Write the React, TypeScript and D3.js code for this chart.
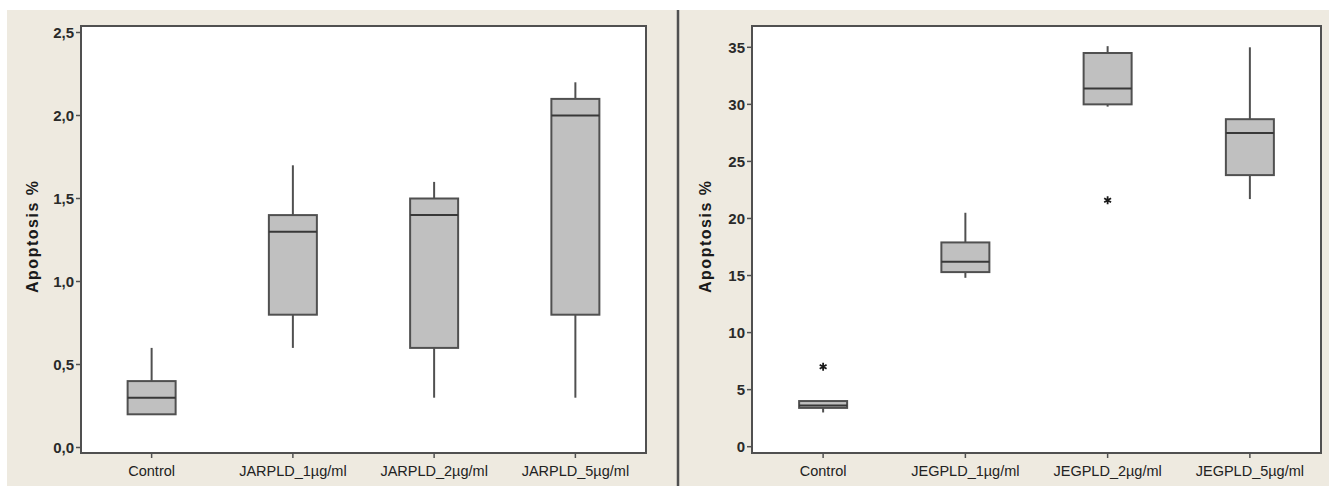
import React, { useEffect, useRef } from "react";
import * as d3 from "d3";

// left panel (JAR cells)
const jarCategories = ["Control", "JARPLD_1µg/ml", "JARPLD_2µg/ml", "JARPLD_5µg/ml"];
const jarLow = [0.2, 0.6, 0.3, 0.3];
const jarQ1 = [0.2, 0.8, 0.6, 0.8];
const jarMedian = [0.3, 1.3, 1.4, 2.0];
const jarQ3 = [0.4, 1.4, 1.5, 2.1];
const jarHigh = [0.6, 1.7, 1.6, 2.2];
const jarOutliers: { cat: number; v: number }[] = [];
const jarTickValues = [0, 0.5, 1.0, 1.5, 2.0, 2.5];
const jarTickLabels = ["0,0", "0,5", "1,0", "1,5", "2,0", "2,5"];

// right panel (JEG cells)
const jegCategories = ["Control", "JEGPLD_1µg/ml", "JEGPLD_2µg/ml", "JEGPLD_5µg/ml"];
const jegLow = [3.0, 14.8, 29.8, 21.7];
const jegQ1 = [3.4, 15.3, 30.0, 23.8];
const jegMedian = [3.6, 16.2, 31.4, 27.5];
const jegQ3 = [4.0, 17.9, 34.5, 28.7];
const jegHigh = [4.0, 20.5, 35.1, 35.0];
const jegOutliers = [
  { cat: 0, v: 7.0 },
  { cat: 2, v: 21.6 },
];
const jegTickValues = [0, 5, 10, 15, 20, 25, 30, 35];
const jegTickLabels = ["0", "5", "10", "15", "20", "25", "30", "35"];

const yTitle = "Apoptosis %";

const BEIGE = "#eeeae0";
const LINE = "#505050";
const FONT = "'Liberation Sans', Arial, sans-serif";

function drawPanel(svg: any, opt: any) {
  const { left, right, top, bottom, y0px, yTopPx, yMax, cats, low, q1, med, q3, high, outliers, tickValues, tickLabels, titleX } = opt;

  var x = d3.scaleBand().domain(cats).range([left, right]);
  var y = d3.scaleLinear().domain([0, yMax]).range([y0px, yTopPx]);
  var bw = 48;
  var g = svg.append("g");

  // plot frame
  g.append("rect")
    .attr("x", left)
    .attr("y", top)
    .attr("width", right - left)
    .attr("height", bottom - top)
    .attr("fill", "white")
    .attr("stroke", LINE)
    .attr("stroke-width", 2);

  // y ticks
  tickValues.forEach(function (v: number, i: number) {
    g.append("line")
      .attr("x1", left - 5).attr("x2", left)
      .attr("y1", y(v)).attr("y2", y(v))
      .attr("stroke", LINE).attr("stroke-width", 1.5);
    g.append("text")
      .attr("x", left - 7)
      .attr("y", y(v))
      .attr("dy", "0.36em")
      .attr("text-anchor", "end")
      .attr("font-family", FONT)
      .attr("font-size", 15)
      .attr("font-weight", "bold")
      .attr("fill", "#2a2a2a")
      .text(tickLabels[i]);
  });

  // x ticks + labels
  cats.forEach(function (c: string) {
    var cx = x(c)! + x.bandwidth() / 2;
    g.append("line")
      .attr("x1", cx).attr("x2", cx)
      .attr("y1", bottom).attr("y2", bottom + 5)
      .attr("stroke", LINE).attr("stroke-width", 1.5);
    g.append("text")
      .attr("x", cx)
      .attr("y", bottom + 23)
      .attr("text-anchor", "middle")
      .attr("font-family", FONT)
      .attr("font-size", 14.5)
      .attr("fill", "#222")
      .text(c);
  });

  // y title
  g.append("text")
    .attr("transform", "translate(" + titleX + "," + 237 + ") rotate(-90)")
    .attr("dy", "0.35em")
    .attr("text-anchor", "middle")
    .attr("font-family", FONT)
    .attr("font-size", 16)
    .attr("font-weight", "bold")
    .attr("fill", "#1a1a1a")
    .attr("textLength", 112)
    .text(yTitle);

  // boxes
  cats.forEach(function (c: string, i: number) {
    var cx = x(c)! + x.bandwidth() / 2;
    if (high[i] > q3[i]) {
      g.append("line")
        .attr("x1", cx).attr("x2", cx)
        .attr("y1", y(q3[i])).attr("y2", y(high[i]))
        .attr("stroke", LINE).attr("stroke-width", 2);
    }
    if (low[i] < q1[i]) {
      g.append("line")
        .attr("x1", cx).attr("x2", cx)
        .attr("y1", y(q1[i])).attr("y2", y(low[i]))
        .attr("stroke", LINE).attr("stroke-width", 2);
    }
    g.append("rect")
      .attr("x", cx - bw / 2)
      .attr("y", y(q3[i]))
      .attr("width", bw)
      .attr("height", y(q1[i]) - y(q3[i]))
      .attr("fill", "#c0c0c0")
      .attr("stroke", LINE)
      .attr("stroke-width", 2);
    g.append("line")
      .attr("x1", cx - bw / 2).attr("x2", cx + bw / 2)
      .attr("y1", y(med[i])).attr("y2", y(med[i]))
      .attr("stroke", "#383838").attr("stroke-width", 2);
  });

  // outliers
  var star = d3.symbol().type(d3.symbolAsterisk).size(44);
  outliers.forEach(function (o: any) {
    var cx = x(cats[o.cat])! + x.bandwidth() / 2;
    g.append("path")
      .attr("d", star())
      .attr("transform", "translate(" + cx + "," + y(o.v) + ")")
      .attr("fill", "none")
      .attr("stroke", "#1a1a1a")
      .attr("stroke-width", 1.8);
  });
}

export default function App() {
  const ref = useRef<SVGSVGElement>(null);

  useEffect(() => {
    var svg = d3.select(ref.current);
    svg.selectAll("*").remove();

    svg.append("rect").attr("width", 1329).attr("height", 486).attr("fill", "white");
    svg.append("rect").attr("x", 7).attr("y", 10).attr("width", 1322).attr("height", 476).attr("fill", BEIGE);
    svg.append("line")
      .attr("x1", 678).attr("x2", 678)
      .attr("y1", 10).attr("y2", 486)
      .attr("stroke", LINE).attr("stroke-width", 2.5);

    drawPanel(svg, {
      left: 81, right: 646, top: 26, bottom: 453,
      y0px: 447.5, yTopPx: 32.5, yMax: 2.5,
      cats: jarCategories, low: jarLow, q1: jarQ1, med: jarMedian, q3: jarQ3, high: jarHigh,
      outliers: jarOutliers, tickValues: jarTickValues, tickLabels: jarTickLabels,
      titleX: 32,
    });

    drawPanel(svg, {
      left: 752, right: 1321, top: 26, bottom: 453,
      y0px: 446.7, yTopPx: 47.3, yMax: 35,
      cats: jegCategories, low: jegLow, q1: jegQ1, med: jegMedian, q3: jegQ3, high: jegHigh,
      outliers: jegOutliers, tickValues: jegTickValues, tickLabels: jegTickLabels,
      titleX: 705,
    });
  }, []);

  return (
    <svg
      ref={ref}
      width={1329}
      height={486}
      style={{ position: "fixed", left: 0, top: 0, display: "block" }}
    />
  );
}
